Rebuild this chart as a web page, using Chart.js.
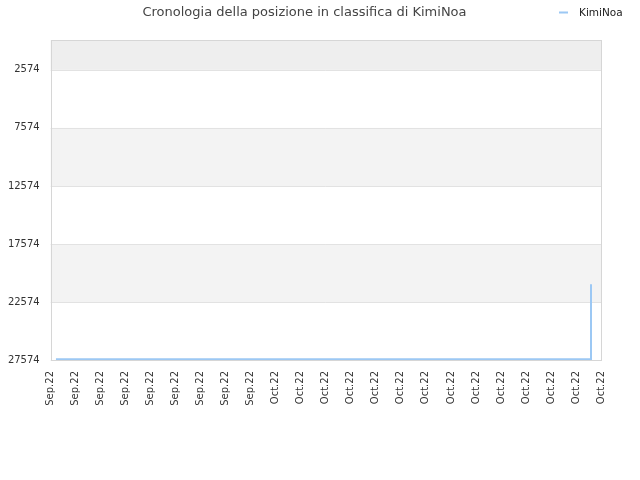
<!DOCTYPE html>
<html>
<head>
<meta charset="utf-8">
<script src="https://cdn.jsdelivr.net/npm/chart.js@4.4.1/dist/chart.umd.min.js"></script>
<style>
  html, body { margin: 0; padding: 0; background: #fff; }
  #wrap { width: 640px; height: 480px; }
</style>
</head>
<body>
<div id="wrap"><canvas id="rankChart" width="640" height="480"></canvas></div>
<script>
// days counted from Sep 14 2022
var tickDays = [0, 2, 4, 6, 8, 10, 12, 14, 16, 18, 20, 22, 24, 26, 28, 30, 32, 34, 36, 38, 40, 42, 44];
var tickLabels = ['Sep.22', 'Sep.22', 'Sep.22', 'Sep.22', 'Sep.22', 'Sep.22', 'Sep.22', 'Sep.22', 'Sep.22',
                  'Oct.22', 'Oct.22', 'Oct.22', 'Oct.22', 'Oct.22', 'Oct.22', 'Oct.22', 'Oct.22', 'Oct.22',
                  'Oct.22', 'Oct.22', 'Oct.22', 'Oct.22', 'Oct.22'];
var rankTicks = [2574, 7574, 12574, 17574, 22574, 27574];

var pointDays = [0.42, 43.16, 43.2];
var ranks = [27510, 27510, 21050];

var lineColor = '#9cc8f4';

// alternating grey bands behind the plot + border box
var bandPlugin = {
    id: 'bands',
    beforeDatasetsDraw: function(chart) {
        var ctx = chart.ctx, area = chart.chartArea, y = chart.scales.y;
        var edges = [y.min].concat(rankTicks);
        ctx.save();
        for (var i = 0; i < edges.length - 1; i++) {
            if (i % 2 === 1) continue;
            var top = y.getPixelForValue(edges[i]);
            var bot = y.getPixelForValue(edges[i + 1]);
            ctx.fillStyle = i === 0 ? '#eeeeee' : '#f3f3f3';
            ctx.fillRect(area.left, top, area.right - area.left, bot - top);
        }
        ctx.strokeStyle = '#e2e2e2';
        ctx.lineWidth = 1;
        rankTicks.forEach(function(v) {
            var py = Math.round(y.getPixelForValue(v)) + 0.5;
            ctx.beginPath();
            ctx.moveTo(area.left, py);
            ctx.lineTo(area.right, py);
            ctx.stroke();
        });
        ctx.strokeStyle = '#d6d6d6';
        ctx.strokeRect(Math.round(area.left) + 0.5, Math.round(area.top) + 0.5,
                       Math.round(area.right - area.left), Math.round(area.bottom - area.top));
        ctx.restore();
    }
};

// legend at the title line, top right
var sideLegend = {
    id: 'sideLegend',
    afterDraw: function(chart) {
        var ctx = chart.ctx, ds = chart.data.datasets[0];
        ctx.save();
        ctx.fillStyle = ds.borderColor;
        ctx.fillRect(559, 11.5, 9, 2);
        ctx.fillStyle = '#222';
        ctx.font = '10.5px "DejaVu Sans"';
        ctx.textBaseline = 'middle';
        ctx.fillText(ds.label, 579, 13);
        ctx.restore();
    }
};

window.onload = function() {
    var ctx = document.getElementById('rankChart').getContext('2d');
    new Chart(ctx, {
        type: 'line',
        data: {
            datasets: [{
                label: 'KimiNoa',
                data: pointDays.map(function(d, i) { return { x: d, y: ranks[i] }; }),
                borderColor: lineColor,
                backgroundColor: lineColor,
                borderWidth: 2,
                pointRadius: 0,
                tension: 0,
                fill: false
            }]
        },
        plugins: [bandPlugin, sideLegend],
        options: {
            responsive: false,
            animation: false,
            layout: { padding: { left: 8, right: 39, top: 0, bottom: 0 } },
            plugins: {
                legend: { display: false },
                tooltip: { enabled: false },
                title: {
                    display: true,
                    text: 'Cronologia della posizione in classifica di KimiNoa',
                    color: '#444',
                    font: { family: 'DejaVu Sans', size: 13, weight: 'normal' },
                    padding: { top: 5, bottom: 19.4 }
                }
            },
            scales: {
                x: {
                    type: 'linear',
                    min: tickDays[0],
                    max: tickDays[tickDays.length - 1],
                    afterBuildTicks: function(axis) {
                        axis.ticks = tickDays.map(function(v) { return { value: v }; });
                    },
                    afterFit: function(axis) {
                        axis.paddingLeft = 0;
                        axis.paddingRight = 0;
                        axis.height = 120;
                    },
                    grid: { display: false, drawTicks: false },
                    border: { display: false },
                    ticks: {
                        autoSkip: false,
                        minRotation: 90,
                        maxRotation: 90,
                        padding: 11,
                        color: '#333',
                        font: { family: 'DejaVu Sans', size: 10 },
                        callback: function(v) {
                            var i = tickDays.indexOf(v);
                            return i >= 0 ? tickLabels[i] : '';
                        }
                    }
                },
                y: {
                    reverse: true,
                    min: 0,
                    max: 27574,
                    afterBuildTicks: function(axis) {
                        axis.ticks = rankTicks.map(function(v) { return { value: v }; });
                    },
                    afterFit: function(axis) {
                        axis.width = 42.7;
                    },
                    grid: { display: false, drawTicks: false },
                    border: { display: false },
                    ticks: {
                        padding: 11,
                        color: '#333',
                        font: { family: 'DejaVu Sans', size: 10 },
                        callback: function(v) { return String(v); }
                    }
                }
            }
        }
    });
};
</script>
</body>
</html>
